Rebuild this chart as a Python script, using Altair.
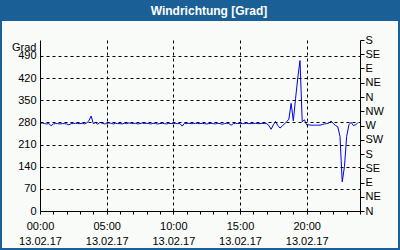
import altair as alt
import pandas as pd

# wind direction in degrees, 10-minute readings from 00:00 to 23:50
values = [
    277, 278, 276, 275, 276, 269,
    275, 276, 276, 275, 276, 276,
    275, 272, 276, 276, 277, 276,
    276, 277, 275, 278, 285, 300,
    276, 279, 274, 280, 277, 275,
    276, 278, 277, 275, 277, 276,
    276, 275, 277, 276, 278, 277,
    276, 277, 275, 276, 278, 276,
    277, 276, 275, 277, 276, 275,
    276, 277, 276, 275, 277, 276,
    277, 276, 276, 276, 268, 277,
    276, 277, 276, 276, 277, 276,
    276, 277, 276, 275, 276, 277,
    276, 275, 277, 276, 274, 276,
    277, 276, 271, 276, 277, 276,
    277, 276, 276, 277, 276, 276,
    276, 277, 276, 276, 277, 276,
    276, 270, 258, 272, 283, 270,
    262, 268, 275, 282, 290, 340,
    285, 355, 420, 475, 282, 288,
    272, 272, 271, 271, 271, 271,
    271, 273, 275, 276, 278, 284,
    276, 270, 266, 235, 92, 140,
    235, 272, 280, 270, 272, 278,
]
left_ticks = [0, 70, 140, 210, 280, 350, 420, 490]
right_ticks = [0, 45, 90, 135, 180, 225, 270, 315, 360, 405, 450, 495, 540]
compass = ["N", "NE", "E", "SE", "S", "SW", "W", "NW", "N", "NE", "E", "SE", "S"]
tick_hours = list(range(25))

times = pd.date_range("2017-02-13 00:00", periods=len(values), freq="10min")
df = pd.DataFrame({"time": times, "deg": values})

BLUE = "#1b5f97"
BG = "#f8fbf8"
FONT = "Liberation Sans"

x_values = [alt.DateTime(year=2017, month=2, date=13 + h // 24, hours=h % 24) for h in tick_hours]

major_test = "hours(datum.value) % 5 == 0 && date(datum.value) == 13"
x_axis = alt.Axis(
    values=x_values,
    labelExpr="(" + major_test + ") ? [timeFormat(datum.value, '%H:%M'), timeFormat(datum.value, '%d.%m.%y')] : ''",
    labelOverlap=False,
    labelFlush=False,
    labelLineHeight=15,
    labelPadding=6,
    tickSize=3,
    tickColor="black",
    grid=True,
    gridDash=[3, 3],
    gridColor="black",
    gridOpacity={"condition": {"test": major_test + " && hours(datum.value) > 0", "value": 1}, "value": 0},
    domainColor="black",
    zindex=1,
)
x_scale = alt.Scale(domain=[alt.DateTime(year=2017, month=2, date=13, hours=0),
                            alt.DateTime(year=2017, month=2, date=14, hours=0)])
x_enc = alt.X("time:T", title=None, scale=x_scale, axis=x_axis)

y_scale = alt.Scale(domain=[0, 540], nice=False, zero=True)

bg = alt.Chart(alt.Data(values=[{}])).mark_rect(color=BG, clip=False).encode(
    x=alt.value(-38), x2=alt.value(358), y=alt.value(-19), y2=alt.value(208)
)

line = alt.Chart(df).mark_line(color="#0000ee", strokeWidth=1).encode(
    x=x_enc,
    y=alt.Y(
        "deg:Q",
        scale=y_scale,
        axis=alt.Axis(
            orient="left",
            values=left_ticks,
            title="Grad",
            titleAngle=0,
            titleX=-4,
            titleY=10,
            titleAlign="right",
            titleBaseline="alphabetic",
            titleFontWeight="normal",
            ticks=False,
            labelPadding=4,
            grid=True,
            gridDash=[3, 3],
            gridColor="black",
            domainColor="black",
            zindex=1,
        ),
    ),
)

compass_js = "[" + ",".join("'" + c + "'" for c in compass) + "]"
right = alt.Chart(df).mark_line(strokeOpacity=0).encode(
    x=x_enc,
    y=alt.Y(
        "deg:Q",
        scale=y_scale,
        axis=alt.Axis(
            orient="right",
            values=right_ticks,
            labelExpr=compass_js + "[round(datum.value / 45)]",
            title=None,
            tickSize=4,
            tickColor="black",
            labelPadding=1,
            grid=False,
            domainColor="black",
            labelOverlap=False,
            labelFlush=False,
            zindex=1,
        ),
    ),
)

chart = (
    alt.layer(bg, line, right)
    .resolve_axis(y="independent")
    .properties(
        width=320,
        height=171,
        title=alt.TitleParams(
            "Windrichtung [Grad]",
            color="white",
            font=FONT,
            fontSize=12,
            fontWeight="bold",
            anchor="middle",
            frame="group",
            baseline="alphabetic",
            offset=0,
            dy=6,
            dx=9,
        ),
        autosize=alt.AutoSizeParams(type="none"),
        padding={"left": 40, "top": 40, "right": 40, "bottom": 39},
        background=BLUE,
    )
    .configure_view(stroke="black", strokeWidth=1, fill=BG)
    .configure_axis(labelFont=FONT, titleFont=FONT, labelFontSize=11, titleFontSize=11,
                    labelColor="black", titleColor="black")
)

chart.save("out.html", embed_options={"renderer": "svg", "actions": False})
